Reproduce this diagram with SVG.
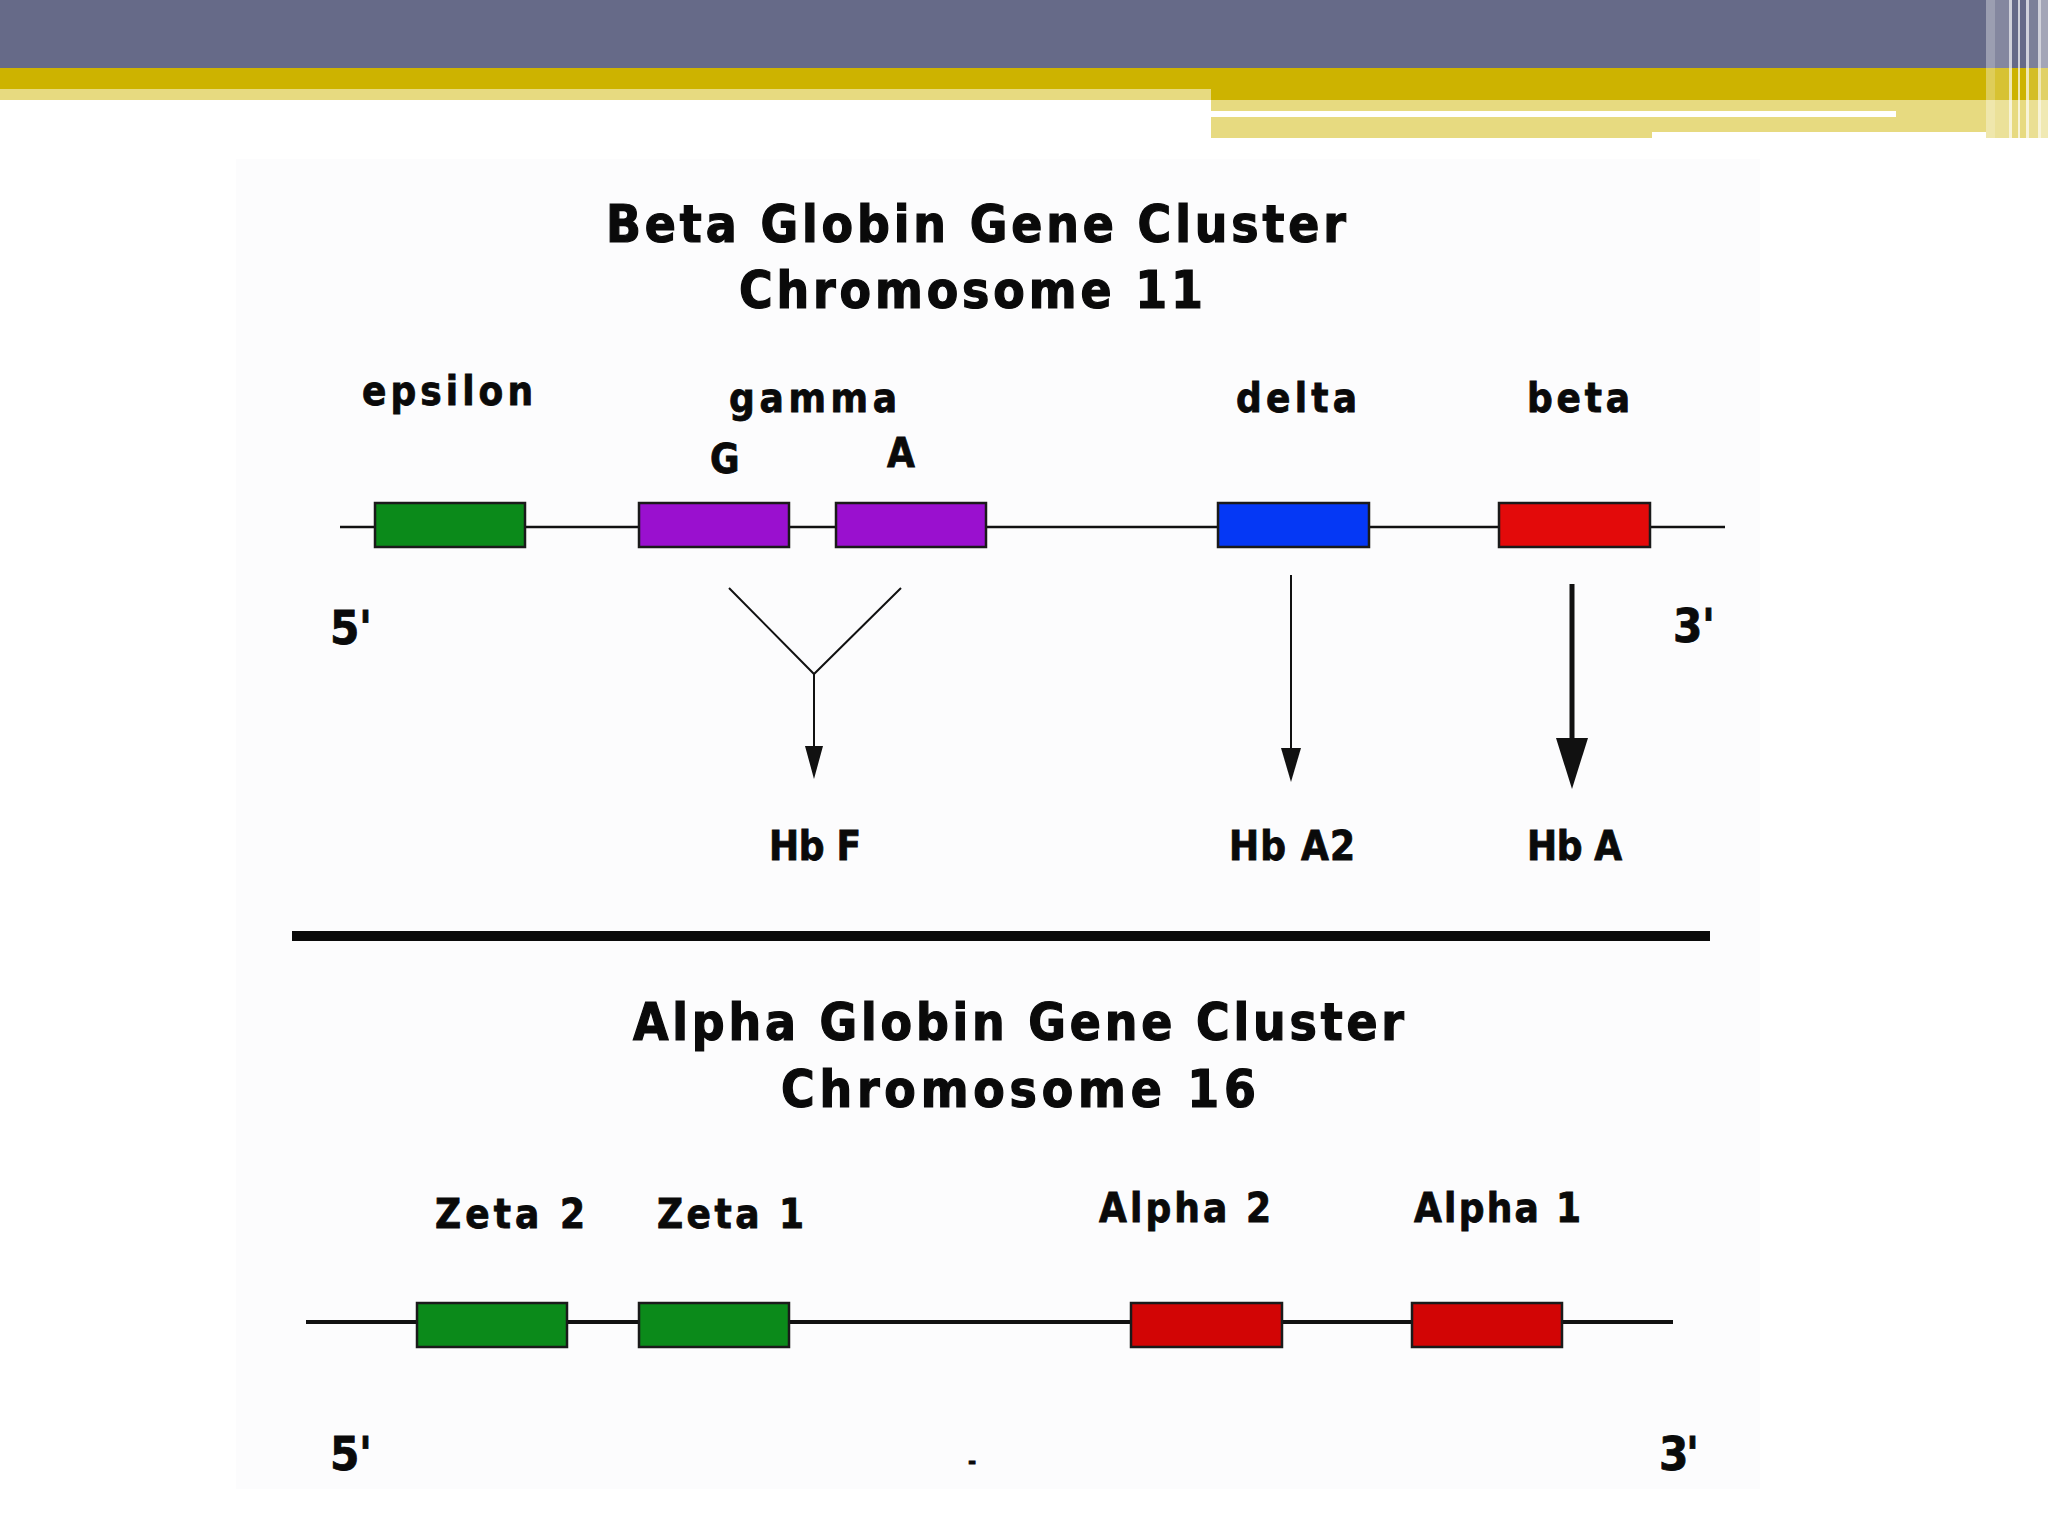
<svg xmlns="http://www.w3.org/2000/svg" width="2048" height="1536" viewBox="0 0 2048 1536">
<style>
.t{font-family:"Liberation Sans Narrow","DejaVu Sans Condensed","Liberation Sans",sans-serif;font-weight:bold;fill:#0a0a0a;stroke:#0a0a0a;stroke-width:0.8}
.title{font-size:51px;stroke-width:1.2}
.lbl{font-size:40px}
.end{font-size:47px}
.gene{stroke:#1a1a1a;stroke-width:2.5}
.chr{stroke:#111;fill:none}
.ln{stroke:#111;stroke-width:2;fill:none}
.head{fill:#111}
</style>
<rect x="0" y="0" width="2048" height="1536" fill="#ffffff"/>
<g id="header">
<rect x="0" y="0" width="2048" height="68" fill="#666a88"/>
<rect x="0" y="68" width="2048" height="21" fill="#cdb300"/>
<rect x="0" y="89" width="1211" height="11" fill="#e7da80"/>
<rect x="1211" y="89" width="837" height="11" fill="#cdb300"/>
<rect x="1211" y="100" width="837" height="38" fill="#e7da80"/>
<rect x="1211" y="111" width="685" height="6" fill="#ffffff"/>
<rect x="1652" y="132" width="334" height="6" fill="#ffffff"/>
<rect x="1986" y="0" width="9" height="138" fill="#ffffff" opacity="0.35"/>
<rect x="1995" y="0" width="14" height="138" fill="#ffffff" opacity="0.2"/>
<rect x="2009" y="0" width="3" height="138" fill="#ffffff" opacity="0.7"/>
<rect x="2018" y="0" width="2" height="138" fill="#ffffff" opacity="0.7"/>
<rect x="2026" y="0" width="3" height="138" fill="#ffffff" opacity="0.7"/>
<rect x="2029" y="0" width="9" height="138" fill="#ffffff" opacity="0.15"/>
<rect x="2038" y="0" width="3" height="138" fill="#ffffff" opacity="0.7"/>
<rect x="2041" y="0" width="7" height="138" fill="#ffffff" opacity="0.4"/>
</g>
<rect id="panel" x="236" y="159" width="1524" height="1330" fill="#fcfcfd"/>

<g id="titles">
<text class="t title" x="606" y="242" textLength="740">Beta Globin Gene Cluster</text>
<text class="t title" x="739" y="308" textLength="464">Chromosome 11</text>
<text class="t title" x="633" y="1040" textLength="771">Alpha Globin Gene Cluster</text>
<text class="t title" x="781" y="1107" textLength="475">Chromosome 16</text>
</g>

<g id="connectors">
<line class="chr" x1="340" y1="527" x2="1725" y2="527" stroke-width="2.5"/>
<line class="chr" x1="306" y1="1322" x2="1673" y2="1322" stroke-width="4"/>
<polyline class="ln" points="729,588 814,674 901,588"/>
<line class="ln" x1="814" y1="674" x2="814" y2="752"/>
<polygon class="head" points="805,746 823,746 814,779"/>
<line class="ln" x1="1291" y1="575" x2="1291" y2="752"/>
<polygon class="head" points="1281,748 1301,748 1291,782"/>
<line x1="1572" y1="584" x2="1572" y2="745" stroke="#111" stroke-width="5"/>
<polygon class="head" points="1556,738 1588,738 1572,789"/>
</g>

<rect id="separator" x="292" y="931" width="1418" height="10" fill="#0a0a0a"/>

<g id="epsilon">
<rect class="gene" x="375" y="503" width="150" height="44" fill="#0b8a1a"/>
<text class="t lbl" x="362" y="405" textLength="171">epsilon</text>
</g>
<g id="gamma">
<text class="t lbl" x="729" y="412" textLength="168">gamma</text>
</g>
<g id="gammaG">
<rect class="gene" x="639" y="503" width="150" height="44" fill="#9a10cf"/>
<text class="t lbl" x="710" y="473" textLength="25">G</text>
</g>
<g id="gammaA">
<rect class="gene" x="836" y="503" width="150" height="44" fill="#9a10cf"/>
<text class="t lbl" x="887" y="467" textLength="24">A</text>
</g>
<g id="delta">
<rect class="gene" x="1218" y="503" width="151" height="44" fill="#0538f5"/>
<text class="t lbl" x="1236" y="412" textLength="121">delta</text>
</g>
<g id="beta">
<rect class="gene" x="1499" y="503" width="151" height="44" fill="#e30a0a"/>
<text class="t lbl" x="1527" y="412" textLength="103">beta</text>
</g>
<g id="beta5">
<text class="t end" x="330" y="644" textLength="42">5'</text>
</g>
<g id="beta3">
<text class="t end" x="1673" y="642" textLength="42">3'</text>
</g>
<g id="hbf">
<text class="t lbl" x="769" y="860" textLength="92">Hb F</text>
</g>
<g id="hba2">
<text class="t lbl" x="1229" y="860" textLength="126">Hb A2</text>
</g>
<g id="hba">
<text class="t lbl" x="1527" y="860" textLength="95">Hb A</text>
</g>

<g id="zeta2">
<rect class="gene" x="417" y="1303" width="150" height="44" fill="#0b8a1a"/>
<text class="t lbl" x="435" y="1228" textLength="150">Zeta 2</text>
</g>
<g id="zeta1">
<rect class="gene" x="639" y="1303" width="150" height="44" fill="#0b8a1a"/>
<text class="t lbl" x="657" y="1228" textLength="147">Zeta 1</text>
</g>
<g id="alpha2">
<rect class="gene" x="1131" y="1303" width="151" height="44" fill="#d20505"/>
<text class="t lbl" x="1099" y="1222" textLength="172">Alpha 2</text>
</g>
<g id="alpha1">
<rect class="gene" x="1412" y="1303" width="150" height="44" fill="#d20505"/>
<text class="t lbl" x="1414" y="1222" textLength="167">Alpha 1</text>
</g>
<g id="alpha5">
<text class="t end" x="330" y="1470" textLength="42">5'</text>
</g>
<g id="alpha3">
<text class="t end" x="1659" y="1470" textLength="40">3'</text>
</g>
<text class="t" x="972" y="1469" font-size="22" text-anchor="middle">-</text>
</svg>
